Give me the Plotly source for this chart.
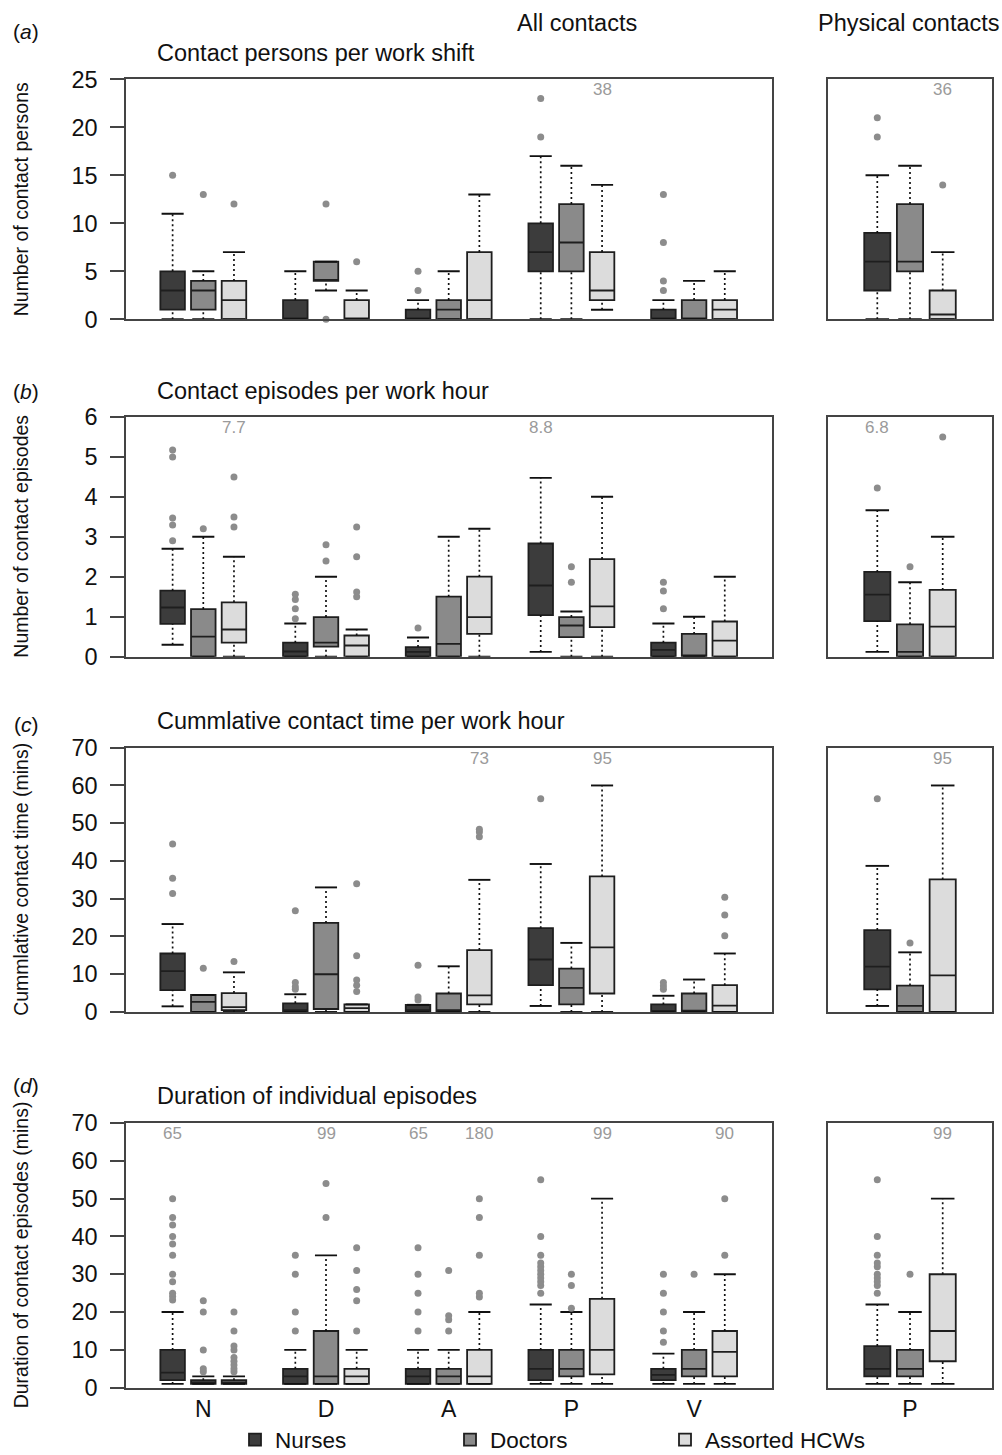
import plotly.graph_objects as go

# ---------------- categories / labels ----------------
GROUPS = ["N", "D", "A", "P", "V"]          # ward groups (left panel); 6th column = P (physical contacts)
SERIES = ["Nurses", "Doctors", "Assorted HCWs"]
PANEL_TAGS = ["a", "b", "c", "d"]
PANEL_TITLES = ["Contact persons per work shift",
                "Contact episodes per work hour",
                "Cummlative contact time per work hour",
                "Duration of individual episodes"]
Y_TITLES = ["Number of contact persons",
            "Number of contact episodes",
            "Cummlative contact time (mins)",
            "Duration of contact episodes (mins)"]
Y_MAX = [25, 6, 70, 70]
Y_TICKS = [[0, 5, 10, 15, 20, 25],
           [0, 1, 2, 3, 4, 5, 6],
           [0, 10, 20, 30, 40, 50, 60, 70],
           [0, 10, 20, 30, 40, 50, 60, 70]]

# columns: N, D, A, P, V, P(physical)   rows: Nurses, Doctors, Assorted HCWs
# ---------------- (a) contact persons per work shift ----------------
A_LO = [[0, 0, 0, 0, 0, 0], [0, 3, 0, 0, 0, 0], [0, 0, 0, 1, 0, 0]]
A_Q1 = [[1, 0, 0, 5, 0, 3], [1, 4, 0, 5, 0, 5], [0, 0, 0, 2, 0, 0]]
A_MED = [[3, 0, 0, 7, 0, 6], [3, 4, 1, 8, 0, 6], [2, 0, 2, 3, 1, 0.5]]
A_Q3 = [[5, 2, 1, 10, 1, 9], [4, 6, 2, 12, 2, 12], [4, 2, 7, 7, 2, 3]]
A_HI = [[11, 5, 2, 17, 2, 15], [5, 6, 5, 16, 4, 16], [7, 3, 13, 14, 5, 7]]
A_OUT = [[[15], [], [3, 5], [19, 23], [3, 4, 8, 13], [19, 21]],
         [[13], [0, 12], [], [], [], []],
         [[12], [6], [], [], [], [14]]]
A_NOTES = [(3, 2, "38"), (5, 2, "36")]   # (column, series, off-scale max)

# ---------------- (b) contact episodes per work hour ----------------
B_LO = [[0.3, 0, 0, 0.12, 0, 0.12], [0, 0, 0, 0, 0, 0], [0, 0, 0, 0, 0, 0]]
B_Q1 = [[0.82, 0, 0, 1.04, 0, 0.89], [0, 0.25, 0, 0.49, 0, 0], [0.35, 0, 0.57, 0.74, 0, 0]]
B_MED = [[1.23, 0.13, 0.12, 1.78, 0.17, 1.55], [0.5, 0.35, 0.32, 0.78, 0.03, 0.12],
         [0.68, 0.28, 0.99, 1.26, 0.4, 0.75]]
B_Q3 = [[1.65, 0.35, 0.24, 2.83, 0.35, 2.12], [1.19, 0.99, 1.5, 0.99, 0.57, 0.81],
        [1.36, 0.53, 2.0, 2.44, 0.88, 1.67]]
B_HI = [[2.7, 0.83, 0.48, 4.47, 0.83, 3.66], [3.0, 2.0, 3.0, 1.13, 1.0, 1.86],
        [2.5, 0.68, 3.2, 4.0, 2.0, 3.0]]
B_OUT = [[[2.9, 3.29, 3.47, 4.99, 5.17], [0.95, 1.2, 1.43, 1.56], [0.72], [], [1.2, 1.64, 1.86], [4.22]],
         [[3.2], [2.39, 2.8], [], [1.86, 2.25], [], [2.25]],
         [[3.24, 3.49, 4.49], [1.5, 1.62, 2.5, 3.24], [], [], [], [5.49]]]
B_NOTES = [(0, 2, "7.7"), (3, 0, "8.8"), (5, 0, "6.8")]

# ---------------- (c) cumulative contact time per work hour ----------------
C_LO = [[1.5, 0, 0, 1.6, 0, 1.6], [0, 0, 0, 0, 0, 0], [0, 0, 0, 0, 0, 0]]
C_Q1 = [[5.8, 0, 0, 7.1, 0, 6.0], [0, 0.8, 0, 2.0, 0, 0], [0.5, 0, 2.0, 4.9, 0, 0]]
C_MED = [[10.8, 0.5, 0.5, 13.9, 0.2, 12.0], [2.7, 10.0, 0.5, 6.4, 0.35, 1.6],
         [1.3, 1.0, 4.4, 17.1, 1.7, 9.7]]
C_Q3 = [[15.5, 2.3, 1.9, 22.2, 2.0, 21.7], [4.5, 23.6, 4.9, 11.5, 4.9, 7.0],
        [5.0, 2.0, 16.4, 35.9, 7.1, 35.1]]
C_HI = [[23.3, 4.7, 1.9, 39.2, 4.3, 38.7], [4.5, 33.0, 12.1, 18.3, 8.6, 15.8],
        [10.5, 2.0, 35.0, 60.0, 15.5, 60.0]]
C_OUT = [[[31.4, 35.4, 44.5], [6.0, 6.7, 7.8, 26.8], [3.2, 4.0, 12.4], [56.5], [6.0, 6.9, 7.8], [56.5]],
         [[11.6], [], [], [], [], [18.3]],
         [[13.4], [5.4, 7.1, 8.5, 14.9, 34.0], [46.4, 47.7, 48.4], [], [20.2, 25.7, 30.4], []]]
C_NOTES = [(2, 2, "73"), (3, 2, "95"), (5, 2, "95")]

# ---------------- (d) duration of individual episodes ----------------
D_LO = [[1, 1, 1, 1, 1, 1], [1, 1, 1, 1, 1, 1], [1, 1, 1, 1, 1, 1]]
D_Q1 = [[2, 1, 1, 2, 2, 3], [1, 1, 1, 3, 3, 3], [1, 1, 1, 3.5, 3, 7]]
D_MED = [[4, 3, 3, 5, 3.4, 5], [1.5, 3, 3, 5, 5, 5], [1.5, 3, 3, 10, 9.5, 15]]
D_Q3 = [[10, 5, 5, 10, 5, 11], [2, 15, 5, 10, 10, 10], [2, 5, 10, 23.5, 15, 30]]
D_HI = [[20, 10, 10, 22, 9, 22], [3, 35, 10, 20, 20, 20], [3, 10, 20, 50, 30, 50]]
D_OUT = [[[23.2, 24.1, 25, 28, 30, 35, 38, 40, 43, 45, 50], [15, 20, 30, 35], [15, 20, 25, 30, 37],
          [25, 27, 28, 29, 30, 31, 32, 33, 35, 40, 55], [12, 15, 20, 25, 30],
          [25, 27, 28, 29, 30, 32, 33, 35, 40, 55]],
         [[4.2, 5, 10, 20, 23], [45, 54], [15, 18, 19, 31], [21, 27, 30], [30], [30]],
         [[4.2, 5, 6, 7, 8, 10, 11, 15, 20], [15, 23, 26, 31, 37], [24, 25, 35, 45, 50], [], [35, 50], []]]
D_NOTES = [(0, 0, "65"), (1, 1, "99"), (2, 0, "65"), (2, 2, "180"), (3, 2, "99"), (4, 2, "90"), (5, 2, "99")]

PANELS = [
    (A_LO, A_Q1, A_MED, A_Q3, A_HI, A_OUT, A_NOTES),
    (B_LO, B_Q1, B_MED, B_Q3, B_HI, B_OUT, B_NOTES),
    (C_LO, C_Q1, C_MED, C_Q3, C_HI, C_OUT, C_NOTES),
    (D_LO, D_Q1, D_MED, D_Q3, D_HI, D_OUT, D_NOTES),
]

# ---------------- styling ----------------
FILLS = ["#3c3c3c", "#8a8a8a", "#dcdcdc"]
EDGE = "#1e1e1e"
OUTLIER = "#8c8c8c"
NOTE_COLOR = "#9a9a9a"
FRAME = "#444444"
OFFSETS = [-0.25, 0.0, 0.25]
BOX_W = 0.2
CAP_HALF = 0.09
FONT = "Liberation Sans, Arial, sans-serif"

W, H = 1002, 1455
LEFT_DOM = [126 / W, 772 / W]
RIGHT_DOM = [828 / W, 992 / W]
ROW_PIX = [(79.3, 319.3), (416.7, 656.7), (747.7, 1012.0), (1123.0, 1387.7)]
TITLE_Y = [53, 391, 721, 1096]
TAG_Y = [31, 392, 724, 1085]


def py(pix):
    return 1 - pix / H


def xpos(col, s):
    """position of a box: left panel columns 0..4 -> 1..5, right panel column 5 -> 1"""
    base = col + 1 if col < 5 else 1
    return base + OFFSETS[s]


fig = go.Figure()
annotations = []
layout_axes = {}

for r, (LO, Q1, MED, Q3, HI, OUT, NOTES) in enumerate(PANELS):
    ax_l, ax_r = 2 * r + 1, 2 * r + 2
    for side, cols, axn in (("L", range(0, 5), ax_l), ("R", range(5, 6), ax_r)):
        xa = "x" if axn == 1 else f"x{axn}"
        ya = "y" if axn == 1 else f"y{axn}"
        # boxes (body + median)
        for s in range(3):
            fig.add_trace(go.Box(
                x=[xpos(c, s) for c in cols],
                q1=[Q1[s][c] for c in cols],
                median=[MED[s][c] for c in cols],
                q3=[Q3[s][c] for c in cols],
                lowerfence=[Q1[s][c] for c in cols],
                upperfence=[Q3[s][c] for c in cols],
                width=BOX_W, whiskerwidth=0,
                fillcolor=FILLS[s], line=dict(color=EDGE, width=1.8),
                name=SERIES[s], legendgroup=SERIES[s],
                showlegend=(r == 0 and side == "L"),
                hoverinfo="skip", xaxis=xa, yaxis=ya,
            ))
        # dotted whiskers and caps
        wx, wy, cx, cy = [], [], [], []
        for s in range(3):
            for c in cols:
                x0 = xpos(c, s)
                if HI[s][c] > Q3[s][c]:
                    wx += [x0, x0, None]
                    wy += [Q3[s][c], HI[s][c], None]
                if LO[s][c] < Q1[s][c]:
                    wx += [x0, x0, None]
                    wy += [LO[s][c], Q1[s][c], None]
                for v in (HI[s][c], LO[s][c]):
                    cx += [x0 - CAP_HALF, x0 + CAP_HALF, None]
                    cy += [v, v, None]
        fig.add_trace(go.Scatter(x=wx, y=wy, mode="lines",
                                 line=dict(color="#111111", width=1.7, dash="2px,3px"),
                                 showlegend=False, hoverinfo="skip", xaxis=xa, yaxis=ya))
        fig.add_trace(go.Scatter(x=cx, y=cy, mode="lines",
                                 line=dict(color="#111111", width=1.9),
                                 showlegend=False, hoverinfo="skip", xaxis=xa, yaxis=ya))
        # outliers
        ox, oy = [], []
        for s in range(3):
            for c in cols:
                for v in OUT[s][c]:
                    ox.append(xpos(c, s))
                    oy.append(v)
        fig.add_trace(go.Scatter(x=ox, y=oy, mode="markers",
                                 marker=dict(color=OUTLIER, size=7, line=dict(width=0)),
                                 cliponaxis=False,
                                 showlegend=False, hoverinfo="skip", xaxis=xa, yaxis=ya))
        # off-scale maxima
        for (c, s, txt) in NOTES:
            if c in cols:
                annotations.append(dict(x=xpos(c, s), y=Y_MAX[r], xref=xa, yref=ya,
                                         text=txt, showarrow=False, yanchor="top", yshift=1,
                                         font=dict(size=17, color=NOTE_COLOR, family=FONT)))

    y_dom = [py(ROW_PIX[r][1]), py(ROW_PIX[r][0])]
    last = r == 3
    common = dict(showline=True, mirror=True, linecolor=FRAME, linewidth=1.5,
                  showgrid=False, zeroline=False, automargin=False)
    layout_axes["xaxis" if ax_l == 1 else f"xaxis{ax_l}"] = dict(
        domain=LEFT_DOM, range=[0.37, 5.635], anchor="y" if ax_l == 1 else f"y{ax_l}",
        tickvals=[1, 2, 3, 4, 5], ticktext=GROUPS, showticklabels=last, ticks="",
        tickfont=dict(size=23, color="#111", family=FONT), **common)
    layout_axes["yaxis" if ax_l == 1 else f"yaxis{ax_l}"] = dict(
        domain=y_dom, range=[0, Y_MAX[r]], anchor="x" if ax_l == 1 else f"x{ax_l}",
        tickvals=Y_TICKS[r], ticks="outside", ticklen=14, tickwidth=1.5, tickcolor=FRAME,
        ticklabelstandoff=8,
        tickfont=dict(size=23.5, color="#111", family=FONT), **common)
    layout_axes[f"xaxis{ax_r}"] = dict(
        domain=RIGHT_DOM, range=[0.373, 1.627], anchor=f"y{ax_r}",
        tickvals=[1], ticktext=["P"], showticklabels=last, ticks="",
        tickfont=dict(size=23, color="#111", family=FONT), **common)
    layout_axes[f"yaxis{ax_r}"] = dict(
        domain=y_dom, range=[0, Y_MAX[r]], anchor=f"x{ax_r}",
        showticklabels=False, ticks="", **common)

    # panel tag, title, y-axis title
    annotations.append(dict(x=26 / W, y=py(TAG_Y[r]), xref="paper", yref="paper",
                            text=f"(<i>{PANEL_TAGS[r]}</i>)", showarrow=False,
                            xanchor="center", yanchor="middle",
                            font=dict(size=21, color="#111", family=FONT)))
    annotations.append(dict(x=155 / W, y=py(TITLE_Y[r]), xref="paper", yref="paper",
                            text=PANEL_TITLES[r], showarrow=False,
                            xanchor="left", yanchor="middle",
                            font=dict(size=23.5, color="#111", family=FONT)))
    annotations.append(dict(x=21 / W, y=py((ROW_PIX[r][0] + ROW_PIX[r][1]) / 2),
                            xref="paper", yref="paper", text=Y_TITLES[r], showarrow=False,
                            textangle=-90, xanchor="center", yanchor="middle",
                            font=dict(size=19.5, color="#111", family=FONT)))

annotations.append(dict(x=577 / W, y=py(23), xref="paper", yref="paper", text="All contacts",
                        showarrow=False, xanchor="center", yanchor="middle",
                        font=dict(size=23.5, color="#111", family=FONT)))
annotations.append(dict(x=909 / W, y=py(23), xref="paper", yref="paper", text="Physical contacts",
                        showarrow=False, xanchor="center", yanchor="middle",
                        font=dict(size=23.5, color="#111", family=FONT)))

fig.update_layout(
    template="none",
    width=W, height=H,
    margin=dict(l=0, r=0, t=0, b=0, autoexpand=False),
    paper_bgcolor="white", plot_bgcolor="white",
    boxmode="overlay",
    font=dict(family=FONT, color="#111"),
    annotations=annotations,
    legend=dict(orientation="h", x=235 / W, xanchor="left", y=py(1440), yanchor="middle",
                font=dict(size=22.5, color="#111", family=FONT),
                entrywidth=170, entrywidthmode="pixels", traceorder="normal",
                bgcolor="rgba(0,0,0,0)"),
    **layout_axes,
)

fig.write_html("out.html", config={"displayModeBar": False},
               post_script="document.body.style.margin='0';")
